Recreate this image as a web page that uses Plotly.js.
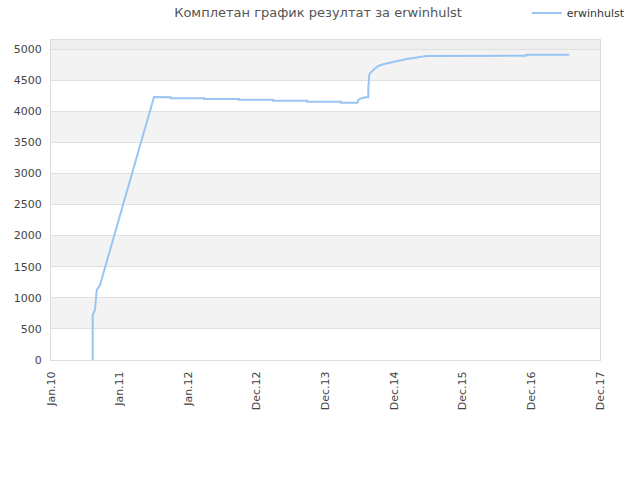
<!DOCTYPE html>
<html>
<head>
<meta charset="utf-8">
<script src="https://cdn.plot.ly/plotly-3.0.1.min.js"></script>
<style>
  html, body { margin: 0; padding: 0; background: #fff; }
  #chart { width: 640px; height: 480px; }
</style>
</head>
<body>
<div id="chart"></div>
<script>
// x positions in tick units (0 = Jan.10 ... 8 = Dec.17)
var pos = [0.608, 0.608, 0.641, 0.656, 0.666, 0.714, 1.501, 1.744, 1.744, 2.230, 2.230,
    2.740, 2.740, 3.235, 3.235, 3.730, 3.730, 4.226, 4.226, 4.466, 4.478, 4.528, 4.576,
    4.624, 4.624, 4.638, 4.648, 4.697, 4.769, 4.842, 4.965, 5.086, 5.183, 5.352, 5.475,
    6.922, 6.922, 7.553];
var score = [0, 724, 804, 1013, 1125, 1206, 4228, 4224, 4209, 4209, 4197,
    4197, 4186, 4186, 4170, 4170, 4154, 4154, 4138, 4138, 4181, 4209, 4224,
    4224, 4369, 4583, 4610, 4663, 4727, 4755, 4787, 4819, 4840, 4867, 4888,
    4893, 4909, 4909];

var tickLabels = ['Jan.10', 'Jan.11', 'Jan.12', 'Dec.12', 'Dec.13', 'Dec.14', 'Dec.15', 'Dec.16', 'Dec.17'];
var yTicks = [0, 500, 1000, 1500, 2000, 2500, 3000, 3500, 4000, 4500, 5000];
var yMax = 5145;

var tickPos = tickLabels.map(function(t, i) { return i; });

// alternating grey bands between gridlines
var shapes = [];
for (let i = 1; i < yTicks.length - 1; i += 2) {
    shapes.push({
        type: 'rect', xref: 'paper', yref: 'y', layer: 'below',
        x0: 0, x1: 1, y0: yTicks[i], y1: yTicks[i + 1],
        fillcolor: '#f3f3f3', line: { width: 0 }
    });
}
shapes.push({
    type: 'rect', xref: 'paper', yref: 'y', layer: 'below',
    x0: 0, x1: 1, y0: yTicks[yTicks.length - 1], y1: yMax,
    fillcolor: '#eeeeee', line: { width: 0 }
});

var traces = [{
    x: pos,
    y: score,
    type: 'scatter',
    mode: 'lines',
    name: 'erwinhulst',
    line: { color: '#99c4f3', width: 2 }
}];

var layout = {
    width: 640,
    height: 480,
    margin: { l: 51, r: 40, t: 40, b: 120, autoexpand: false },
    paper_bgcolor: '#fff',
    plot_bgcolor: '#fff',
    font: { family: 'DejaVu Sans', size: 11, color: '#444' },
    title: {
        text: 'Комплетан график резултат за erwinhulst',
        font: { family: 'DejaVu Sans', size: 13, color: '#555' },
        x: 0.497, xanchor: 'center', y: 0.975, yanchor: 'middle'
    },
    showlegend: true,
    legend: {
        xref: 'container', yref: 'container',
        x: 0.823, y: 0.973, xanchor: 'left', yanchor: 'middle',
        itemwidth: 30,
        font: { family: 'DejaVu Sans', size: 11, color: '#333' },
        bgcolor: 'rgba(0,0,0,0)'
    },
    xaxis: {
        range: [0, 8],
        tickvals: tickPos,
        ticktext: tickLabels,
        tickangle: -90,
        ticks: '',
        ticklabelstandoff: 6,
        showgrid: false,
        zeroline: false,
        showline: true,
        linecolor: '#dddddd',
        linewidth: 1,
        mirror: true,
        tickfont: { size: 11, color: '#444' }
    },
    yaxis: {
        range: [0, yMax],
        tickvals: yTicks,
        ticks: '',
        ticklabelstandoff: 6,
        showgrid: true,
        gridcolor: '#e0e0e0',
        zeroline: false,
        showline: true,
        linecolor: '#dddddd',
        linewidth: 1,
        mirror: true,
        tickfont: { size: 11, color: '#444' }
    },
    shapes: shapes
};

Plotly.newPlot('chart', traces, layout, { staticPlot: true });
</script>
</body>
</html>
